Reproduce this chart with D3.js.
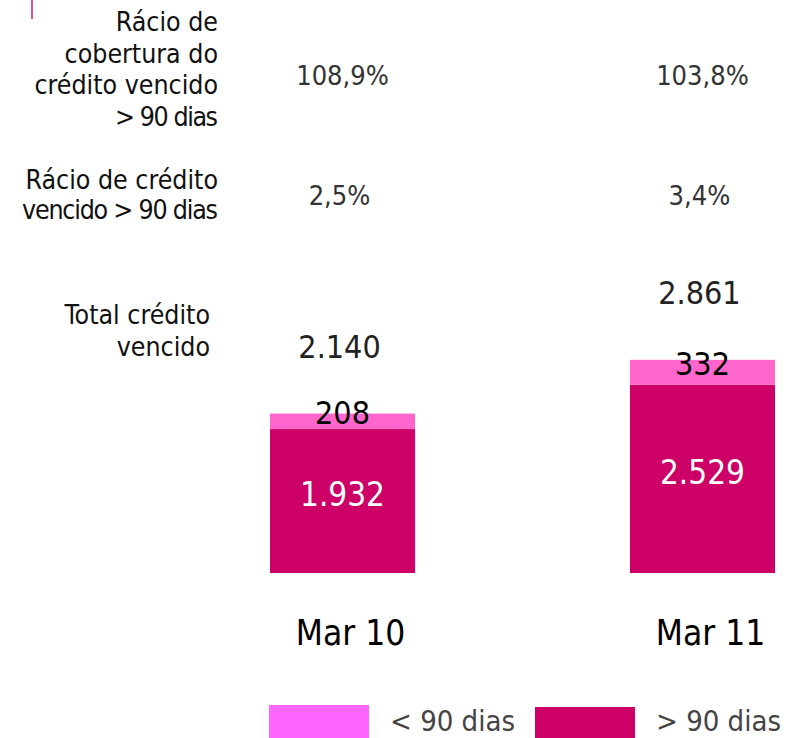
<!DOCTYPE html>
<html><head><meta charset="utf-8">
<script src="https://cdn.jsdelivr.net/npm/d3@7"></script>
<style>body{margin:0;background:#fff}svg{display:block}text{font-family:"DejaVu Sans Condensed","DejaVu Sans",sans-serif}</style>
</head><body><svg id="c" width="787" height="738"></svg>
<script>
const categories = ["Mar 10", "Mar 11"];
const over90 = [1932, 2529];
const under90 = [208, 332];
const totals = [2140, 2861];
const coverageRatio = ["108,9%", "103,8%"];
const overdueRatio = ["2,5%", "3,4%"];
const seriesNames = ["< 90 dias", "> 90 dias"];
const fmt = v => d3.format(",")(v).replace(/,/g, ".");

const svg = d3.select("#c");
const x = d3.scaleBand().domain(categories).range([270, 775]).paddingInner(0.597).paddingOuter(0);
const y = d3.scaleLinear().domain([0, 3000]).range([573, 349.5]);
const colLight = "#FF66CC", colDark = "#CC0066";

svg.append("line").attr("x1",32).attr("x2",32).attr("y1",0).attr("y2",19).attr("stroke","#e8508a").attr("stroke-width",2);

const lab = (lines, xr, y0, lh, lens) => {
  const t = svg.append("text").attr("text-anchor","end").attr("font-size",26.5).attr("fill","#111");
  lines.forEach((l,i)=>{
    const s = t.append("tspan").attr("x",xr).attr("y",y0+i*lh).text(l);
    if (lens && lens[i]) s.attr("textLength",lens[i]).attr("lengthAdjust","spacing");
  });
};
lab(["Rácio de","cobertura do","crédito vencido","> 90 dias"], 218, 31, 31.5, [0,0,0,103]);
lab(["Rácio de crédito","vencido > 90 dias"], 218, 189, 30, [0,196]);
lab(["Total crédito","vencido"], 210, 324, 32);

const cx = d => x(d) + x.bandwidth()/2;
categories.forEach((c,i)=>{
  svg.append("text").attr("x",cx(c)).attr("y",85).attr("text-anchor","middle").attr("font-size",27).attr("fill","#333").text(coverageRatio[i]);
  svg.append("text").attr("x",cx(c)-3).attr("y",205).attr("text-anchor","middle").attr("font-size",27).attr("fill","#333").text(overdueRatio[i]);
  svg.append("rect").attr("x",x(c)).attr("width",x.bandwidth()).attr("y",y(over90[i])).attr("height",y(0)-y(over90[i])).attr("fill",colDark);
  svg.append("rect").attr("x",x(c)).attr("width",x.bandwidth()).attr("y",y(totals[i])).attr("height",y(over90[i])-y(totals[i])).attr("fill",colLight);
  svg.append("text").attr("x",cx(c)-3).attr("y",y(totals[i])-56).attr("text-anchor","middle").attr("font-size",32).attr("fill","#222").text(fmt(totals[i]));
  svg.append("text").attr("x",cx(c)).attr("y",(y(totals[i])+y(over90[i]))/2+3).attr("text-anchor","middle").attr("font-size",32).attr("fill","#000").text(fmt(under90[i]));
  svg.append("text").attr("x",cx(c)).attr("y",(y(over90[i])+y(0))/2+5).attr("text-anchor","middle").attr("font-size",33).attr("fill","#fff").text(fmt(over90[i]));
  svg.append("text").attr("x",cx(c)+8).attr("y",645).attr("text-anchor","middle").attr("font-size",35).attr("fill","#000").text(c);
});

const leg = [{n:seriesNames[0],c:"#FF66FF",x:269,y:705},{n:seriesNames[1],c:colDark,x:535,y:707}];
leg.forEach(l=>{
  svg.append("rect").attr("x",l.x).attr("y",l.y).attr("width",100).attr("height",738-l.y).attr("fill",l.c);
  svg.append("text").attr("x",l.x+121).attr("y",731).attr("font-size",29).attr("fill","#444").text(l.n);
});
</script></body></html>
